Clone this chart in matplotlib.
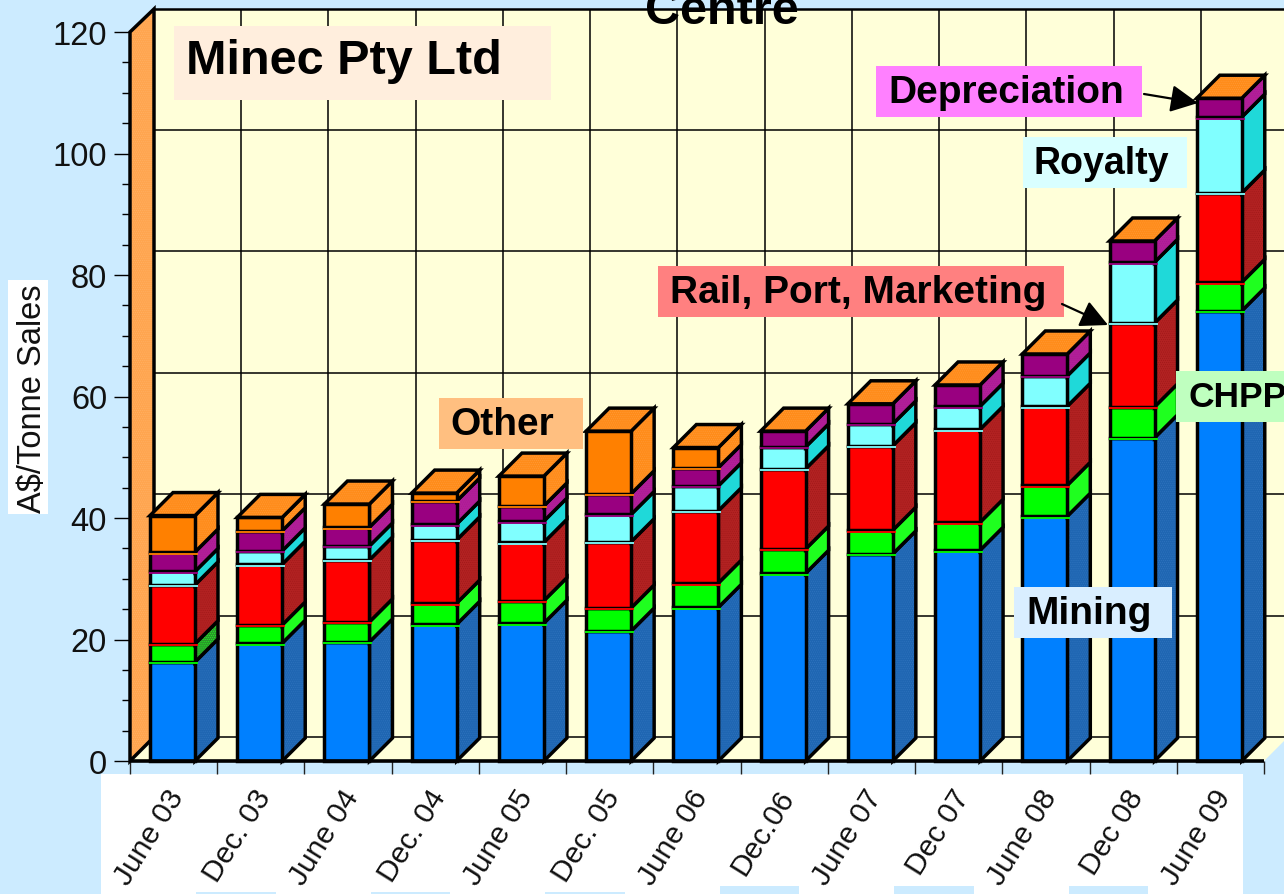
"""
Stacked cost per tonne chart drawn as a fake 3D column chart.
"""

import matplotlib

matplotlib.use("Agg")

import matplotlib.pyplot as plt
from matplotlib.patches import FancyArrowPatch, Polygon, Rectangle
from matplotlib.ticker import MultipleLocator

periods = ["June 03", "Dec. 03", "June 04", "Dec. 04", "June 05", "Dec. 05", "June 06",
           "Dec.06", "June 07", "Dec 07", "June 08", "Dec 08", "June 09"]

mining = [16.3, 19.4, 19.6, 22.5, 22.7, 21.4, 25.3, 30.9, 34.1, 34.7, 40.3, 53.2, 74.1]
chpp = [3.0, 3.0, 3.3, 3.5, 3.7, 3.8, 4.0, 4.0, 3.9, 4.6, 5.1, 5.1, 4.7]
rail_port = [9.7, 10.0, 10.2, 10.4, 9.6, 10.9, 11.9, 13.2, 13.9, 15.3, 13.0, 13.8, 14.7]
royalty = [2.2, 2.2, 2.3, 2.6, 3.5, 4.5, 4.1, 3.6, 3.6, 3.8, 5.0, 10.0, 12.5]
depreciation = [3.2, 3.3, 3.1, 3.8, 2.5, 3.4, 3.0, 2.6, 3.3, 3.5, 3.6, 3.5, 3.1]
other = [6.0, 2.2, 3.8, 1.3, 4.9, 10.3, 3.3, 0, 0, 0, 0, 0, 0]

series = [mining, chpp, rail_port, royalty, depreciation, other]
front_colors = ["#0080FF", "#00FF00", "#FF0000", "#80FFFF", "#990080", "#FF8000"]
side_colors = ["#1F66B2", "#1FFF1F", "#B22222", "#1FD9D9", "#B21F99", "#FF8C1A"]
dot_colors = ["#2F74BF", "#1FFF1F", "#A01818", "#1FD9D9", "#A81A90", "#FF9A38"]

BG = "#CCEBFF"
WALL = "#FFFFD9"
W, H = 1284, 895
X0, X1, Y0, Y120 = 130, 1264, 762, 33
DEPTH = 23
WALL_DEPTH = 24

plt.rcParams["font.family"] = ["Liberation Sans", "DejaVu Sans"]
plt.rcParams["hatch.linewidth"] = 0.4
fig = plt.figure(figsize=(W / 100, H / 100), dpi=100, facecolor=BG)
ax = fig.add_axes([X0 / W, 1 - Y0 / H, (X1 - X0) / W, (Y0 - Y120) / H])
ax.set_xlim(0, 13)
ax.set_ylim(0, 120)
ax.patch.set_visible(False)
for spine in ax.spines.values():
    spine.set_visible(False)

# depth of the 3D effect in data units
px_x = 13 / (X1 - X0)
px_y = 120 / (Y0 - Y120)
dx = DEPTH * px_x
dy = DEPTH * px_y
wall_dx = WALL_DEPTH * px_x
wall_dy = WALL_DEPTH * px_y
bar_left = 20 * px_x
bar_width = 45 * px_x


def poly(points, color, lw=2.5, z=1, dots=None):
    ax.add_patch(Polygon(points, closed=True, facecolor=color, edgecolor="none",
                         clip_on=False, zorder=z))
    if dots:
        ax.add_patch(Polygon(points, closed=True, facecolor="none", edgecolor=dots,
                             hatch="........", linewidth=0, clip_on=False, zorder=z))
    ax.add_patch(Polygon(points, closed=True, facecolor="none", edgecolor="black",
                         linewidth=lw, joinstyle="miter", clip_on=False, zorder=z))


def line(xs, ys, color="black", lw=1.1, z=1):
    ax.plot(xs, ys, color=color, lw=lw, clip_on=False, zorder=z, solid_capstyle="butt")


# walls and floor
right = 13 + 25 * px_x
wall_top = 120 + 23 * px_y
ax.add_patch(Rectangle((wall_dx, wall_dy), right, wall_top - wall_dy, facecolor=WALL,
                       edgecolor="none", clip_on=False, zorder=0))
ax.add_patch(Polygon([(0, 0), (wall_dx, wall_dy), (13 + wall_dx, wall_dy), (13, 0)],
                     facecolor=WALL, edgecolor="none", clip_on=False, zorder=0))
for v in range(0, 120, 20):
    line([wall_dx, right + wall_dx], [v + wall_dy, v + wall_dy])
for i in range(1, 14):
    line([i + wall_dx, i + wall_dx], [wall_dy, wall_top])
line([wall_dx, right + wall_dx], [wall_top, wall_top], lw=1.8)
poly([(0, 0), (wall_dx, wall_dy), (wall_dx, wall_top), (0, 120)], "#FFA54F", z=1, dots="#FFB266")

# columns
for i in range(len(periods)):
    x = i + bar_left
    xr = x + bar_width
    base = 0
    for s, values in enumerate(series):
        v = values[i]
        if v == 0:
            continue
        top = base + v
        side = "#2B962B" if (i == 0 and s == 1) else side_colors[s]
        poly([(xr, base), (xr + dx, base + dy), (xr + dx, top + dy), (xr, top)], side, z=2,
             dots=dot_colors[s])
        poly([(x, base), (xr, base), (xr, top), (x, top)], front_colors[s], z=2)
        if base > 0:
            # thin coloured seam sitting on the black boundary line
            line([x - 1 * px_x, xr + 3 * px_x], [base - 1.5 * px_y, base - 1.5 * px_y],
                 color=front_colors[s], lw=1.3, z=3)
        base = top
    poly([(x, base), (xr, base), (xr + dx, base + dy), (x + dx, base + dy)], "#FF8C1A", z=3,
         dots="#FF9A38")

line([0, 13], [0, 0], lw=2.6, z=4)

# axis ticks
ax.set_xticks(range(14))
ax.set_xticklabels([])
ax.tick_params(axis="x", which="major", length=9.5, width=1.0, color="#222222")
ax.yaxis.set_major_locator(MultipleLocator(20))
ax.yaxis.set_minor_locator(MultipleLocator(5))
ax.tick_params(axis="y", which="major", length=11.5, width=1.0, pad=5, labelsize=23.5,
               labelcolor="#111111")
ax.tick_params(axis="y", which="minor", length=5.5, width=1.0)

# white label backgrounds behind the rotated period labels
for k in range(7):
    fig.add_artist(Rectangle(((101 + 174.5 * k) / W, 0), 95 / W, 1 - 775 / H,
                             transform=fig.transFigure, facecolor="white",
                             edgecolor="none", zorder=-1))
for k, bottom in enumerate([893, 893, 893, 887, 887, 887]):
    fig.add_artist(Rectangle(((195 + 174.5 * k) / W, 1 - bottom / H), 81.5 / W, (bottom - 775) / H,
                             transform=fig.transFigure, facecolor="white",
                             edgecolor="none", zorder=-1))

for i, label in enumerate(periods):
    ax.annotate(label, (i + 0.5, 0), xytext=(16, -23), textcoords="offset pixels",
                rotation=58, ha="right", va="top", fontsize=21.5, color="#111111",
                annotation_clip=False)

# y axis label
fig.add_artist(Rectangle((8 / W, 1 - 515 / H), 40 / W, 234 / H, transform=fig.transFigure,
                         facecolor="white", edgecolor="none", zorder=-1))
fig.text(33 / W, 1 - 399 / H, "A$/Tonne Sales", rotation=90, ha="center", va="center",
         fontsize=23.5, color="#111111")

# title is cut off by the top of the image in the source
fig.text(722 / W, 1 - 24 / H, "Centre", ha="center", va="baseline", fontsize=35,
         fontweight="bold", color="black")


def callout(text, x0, y0, x1, y1, color, tx, size=28, lift=3.5):
    fig.add_artist(Rectangle((x0 / W, 1 - y1 / H), (x1 - x0) / W, (y1 - y0) / H,
                             transform=fig.transFigure, facecolor=color, edgecolor="none",
                             zorder=5))
    fig.text(tx / W, 1 - ((y0 + y1) / 2 - lift) / H, text, ha="left", va="center_baseline",
             fontsize=size, fontweight="bold", color="black", zorder=6)


def arrow(start, end):
    fig.add_artist(FancyArrowPatch((start[0] / W, 1 - start[1] / H), (end[0] / W, 1 - end[1] / H),
                                   transform=fig.transFigure,
                                   arrowstyle="-|>,head_length=0.7,head_width=0.35",
                                   mutation_scale=24, color="black", lw=1.6,
                                   shrinkA=0, shrinkB=0, zorder=6))


callout("Minec Pty Ltd", 174, 27, 551, 101, "#FFEEDD", 186, size=35, lift=8)
callout("Depreciation", 876, 67, 1142, 118, "#FF80FF", 888)
callout("Royalty", 1023, 138, 1187, 189, "#D9FFFF", 1034, size=27)
callout("Rail, Port, Marketing", 658, 267, 1064, 318, "#FF8080", 670)
callout("Other", 439, 399, 583, 450, "#FFBF80", 450)
callout("CHPP", 1176, 372, 1284, 423, "#BFFFBF", 1188, size=25.5)
callout("Mining", 1014, 588, 1172, 639, "#D9EEFF", 1026)
arrow((1144, 95), (1198, 104))
arrow((1062, 305), (1108, 326))

fig.savefig("out.png", dpi=100, facecolor=BG)
plt.close(fig)
